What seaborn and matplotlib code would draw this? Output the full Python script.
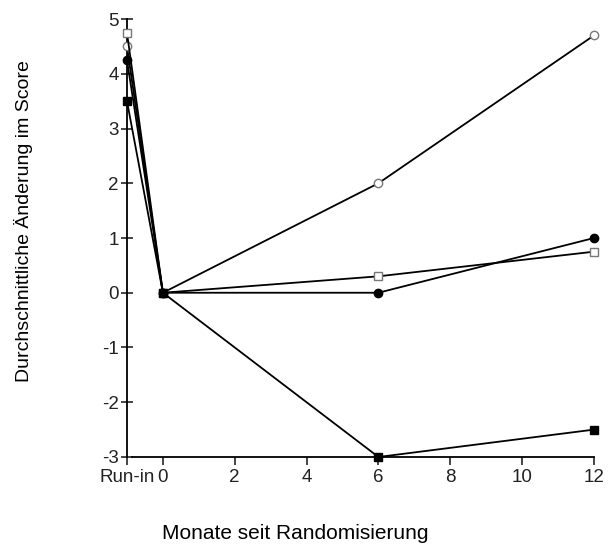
import matplotlib
matplotlib.use("Agg")
import matplotlib.pyplot as plt
import seaborn as sns
import pandas as pd

# Data
months = [-1, 0, 6, 12]          # -1 = Run-in
tick_positions = [-1, 0, 2, 4, 6, 8, 10, 12]
tick_labels = ["Run-in", "0", "2", "4", "6", "8", "10", "12"]
open_circle = [4.5, 0.0, 2.0, 4.7]
open_square = [4.75, 0.0, 0.3, 0.75]
filled_circle = [4.25, 0.0, 0.0, 1.0]
filled_square = [3.5, 0.0, -3.0, -2.5]

series = {
    "open_circle": open_circle,
    "open_square": open_square,
    "filled_circle": filled_circle,
    "filled_square": filled_square,
}
rows = []
for name, vals in series.items():
    for m, v in zip(months, vals):
        rows.append({"Monat": m, "Wert": v, "Gruppe": name})
df = pd.DataFrame(rows)

sns.set_style("ticks")
plt.rcParams["font.family"] = ["Liberation Sans", "DejaVu Sans"]
plt.rcParams["axes.unicode_minus"] = False

fig = plt.figure(figsize=(6.09, 5.45), dpi=100)
ax = fig.add_axes([0.2085, 0.1615, 0.7668, 0.8036])

styles = {
    "open_circle": dict(marker="o", mfc="white", mec="#777777"),
    "open_square": dict(marker="s", mfc="white", mec="#777777"),
    "filled_circle": dict(marker="o", mfc="black", mec="black"),
    "filled_square": dict(marker="s", mfc="black", mec="black"),
}
for name, st in styles.items():
    sub = df[df["Gruppe"] == name]
    sns.lineplot(data=sub, x="Monat", y="Wert", ax=ax, color="black",
                 linewidth=1.3, markersize=6, markeredgewidth=1.0,
                 clip_on=False, zorder=3, legend=False, **st)

ax.set_xlim(-1, 12)
ax.set_ylim(-3, 5)
ax.set_xticks(tick_positions)
ax.set_xticklabels(tick_labels)
ax.set_yticks(range(-3, 6))
ax.spines["top"].set_visible(False)
ax.spines["right"].set_visible(False)
ax.spines["bottom"].set_bounds(-0.85, 12)
for s in ["left", "bottom"]:
    ax.spines[s].set_linewidth(1.3)
    ax.spines[s].set_color("black")

for lab in ax.get_xticklabels() + ax.get_yticklabels():
    lab.set_fontsize(13.5)
    lab.set_color("#222222")
ax.tick_params(axis="y", direction="inout", length=8, width=1.2, pad=2)
ax.tick_params(axis="x", direction="out", length=6, width=1.2, pad=3)

ax.set_xlabel("")
ax.set_ylabel("")
fig.text(0.484, 0.022, "Monate seit Randomisierung", ha="center", va="center",
         fontsize=15, color="black")
fig.text(0.039, 0.594, "Durchschnittliche Änderung im Score", ha="center", va="center",
         rotation=90, fontsize=14, color="black")

fig.savefig("out.png", dpi=100)
